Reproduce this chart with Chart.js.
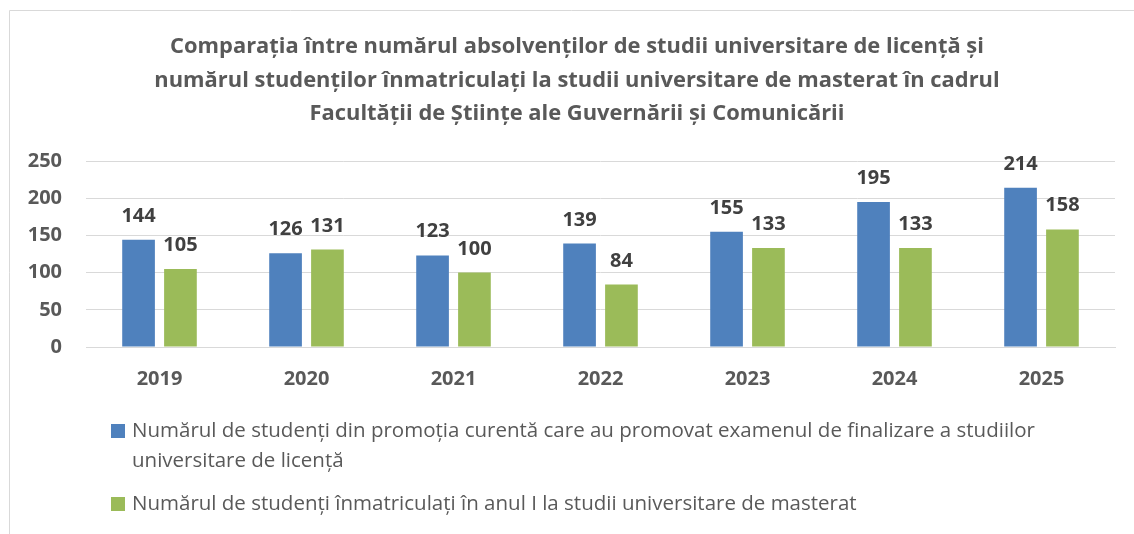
<!DOCTYPE html>
<html>
<head>
<meta charset="utf-8">
<script src="https://cdn.jsdelivr.net/npm/chart.js@4.4.0/dist/chart.umd.min.js"></script>
<style>
  html, body { margin: 0; padding: 0; background: #fff; }
  #wrap { position: relative; width: 1134px; height: 534px; }
</style>
</head>
<body>
<div id="wrap"><canvas id="chart" width="1134" height="534"></canvas></div>
<script>
const years = ['2019', '2020', '2021', '2022', '2023', '2024', '2025'];
const graduates = [144, 126, 123, 139, 155, 195, 214];
const enrolled = [105, 131, 100, 84, 133, 133, 158];
const titleLines = [
  'Comparația între numărul absolvenților de studii universitare de licență și',
  'numărul studenților înmatriculați la studii universitare de masterat în cadrul',
  'Facultății de Științe ale Guvernării și Comunicării'
];
const legendLines = [
  ['Numărul de studenți din promoția curentă care au promovat examenul de finalizare a studiilor', 'universitare de licență'],
  ['Numărul de studenți înmatriculați în anul I la studii universitare de masterat']
];

const FONT = '"Open Sans", "DejaVu Sans", sans-serif';
const GREY = '#595959';

// frame, title, legend and value labels
const decor = {
  id: 'decor',
  beforeDraw(chart) {
    const ctx = chart.ctx;
    ctx.save();
    ctx.strokeStyle = '#d9d9d9';
    ctx.lineWidth = 1;
    ctx.beginPath();
    ctx.moveTo(9.5, 534);
    ctx.lineTo(9.5, 10.5);
    ctx.lineTo(1134, 10.5);
    ctx.stroke();
    ctx.restore();
  },
  afterDraw(chart) {
    const ctx = chart.ctx;
    ctx.save();

    // title
    ctx.fillStyle = GREY;
    ctx.font = 'bold 21.9px ' + FONT;
    ctx.textAlign = 'center';
    ctx.textBaseline = 'middle';
    titleLines.forEach((t, i) => ctx.fillText(t, 577, 47 + i * 33.5));

    // value labels
    ctx.fillStyle = '#404040';
    ctx.font = 'bold 20px ' + FONT;
    ctx.textBaseline = 'alphabetic';
    chart.data.datasets.forEach((ds, di) => {
      chart.getDatasetMeta(di).data.forEach((bar, i) => {
        ctx.fillText(ds.data[i], bar.x, bar.y - 18);
      });
    });

    // legend
    ctx.textAlign = 'left';
    ctx.textBaseline = 'middle';
    ctx.font = '20.5px ' + FONT;
    const ys = [[431, 461], [504]];
    chart.data.datasets.forEach((ds, di) => {
      ctx.fillStyle = ds.backgroundColor;
      ctx.fillRect(111, ys[di][0] - 7, 14, 14);
      ctx.fillStyle = GREY;
      legendLines[di].forEach((t, li) => ctx.fillText(t, 132, ys[di][li]));
    });
    ctx.restore();
  }
};

new Chart(document.getElementById('chart'), {
  type: 'bar',
  data: {
    labels: years,
    datasets: [
      { label: legendLines[0].join(' '), data: graduates, backgroundColor: '#4F81BD' },
      { label: legendLines[1].join(' '), data: enrolled, backgroundColor: '#9BBB59' }
    ]
  },
  options: {
    responsive: false,
    animation: false,
    layout: { padding: { top: 161, right: 19, bottom: 145, left: 0 } },
    datasets: { bar: { categoryPercentage: 0.57, barPercentage: 0.78 } },
    plugins: {
      legend: { display: false },
      title: { display: false },
      tooltip: { enabled: false }
    },
    scales: {
      x: {
        afterFit(scale) { scale.height = 42; },
        grid: { display: false, drawTicks: false },
        border: { color: '#d9d9d9', width: 1 },
        ticks: { color: GREY, font: { family: FONT, size: 20, weight: 'bold' }, padding: 20 }
      },
      y: {
        min: 0,
        max: 250,
        afterFit(scale) { scale.width = 86; },
        grid: { color: '#d9d9d9', drawTicks: false },
        border: { display: false },
        ticks: { stepSize: 50, color: GREY, font: { family: FONT, size: 20, weight: 'bold' }, padding: 24 }
      }
    }
  },
  plugins: [decor]
});
</script>
</body>
</html>
